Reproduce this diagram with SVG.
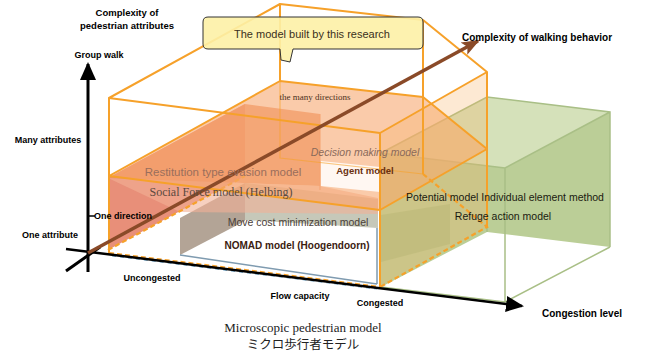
<svg xmlns="http://www.w3.org/2000/svg" width="650" height="354" viewBox="0 0 650 354">
<defs>
<style>
.ax{font-family:"Liberation Sans",Arial,sans-serif;font-weight:bold;font-size:9px;fill:#000}
.or{fill:none;stroke:#f6a12a;stroke-width:2;stroke-linejoin:round}
.ord{fill:none;stroke:#f6a12a;stroke-width:2.2;stroke-dasharray:5 3}
.gr{fill:none;stroke:#a9bf86;stroke-width:1.5}
.lbl{font-family:"Liberation Sans",Arial,sans-serif;font-size:10.5px;text-anchor:middle}
</style>
<marker id="ahb" markerUnits="userSpaceOnUse" markerWidth="18" markerHeight="16" refX="16" refY="8" orient="auto"><path d="M0,0 L18,8 L0,16 z" fill="#000"/></marker>
<marker id="ahbr" markerUnits="userSpaceOnUse" markerWidth="18" markerHeight="16" refX="16" refY="8" orient="auto"><path d="M0,1 L18,8 L0,15 L4,8 z" fill="#8a4a28"/></marker>
</defs>
<rect width="650" height="354" fill="#fff"/>

<g id="green-box">
<polygon points="381,153 487,97 610,112 610,247 487,232 381,287" fill="#b4c98c" fill-opacity="0.9"/>
<polygon points="381,153 487,97 610,112 505,168" fill="#d9e4c0" fill-opacity="0.85"/>
<polygon points="381,215 450,204 450,244 381,262" fill="#9fb57a" fill-opacity="0.45"/>
<path class="gr" d="M381,153 L487,97 L610,112 L610,247 M505,168 L610,112 M505,168 L505,302 M381,153 L505,168 M381,287 L505,302 L610,247 M487,97 L487,232"/>
</g>

<g id="grey-box">
<polygon points="180,218 180,255 245,221 245,183" fill="#b3a496"/>
<polygon points="245,183 378,199 378,228 245,220" fill="#c6c8b9"/>
<path d="M180,255 L377,284 M377,228 L377,284" fill="none" stroke="#7f9bb0" stroke-width="1.5"/>
</g>

<g id="red-box">
<polygon points="108,178 108,250 245,176 245,104" fill="#e5836a" fill-opacity="0.9"/>
<polygon points="108,178 245,104 320,114 320,186" fill="#ee8f62" fill-opacity="0.8"/>
<polygon points="108,178 320,186 378,198 378,214 180,212" fill="#f2b096" fill-opacity="0.6"/>
<path class="ord" d="M108,250 L245,176"/>
<path d="M320,114 L320,190" fill="none" stroke="#f29a70" stroke-width="1"/>
</g>

<g id="research-box">
<polygon points="109,176 380,210 487,149 423,97 280,81" fill="#f7a872" fill-opacity="0.6"/>
<polygon points="321,161 380,167 380,192 321,186" fill="#fff" fill-opacity="0.85"/>
<polygon points="380,133 487,72 487,227 380,286" fill="#f7b060" fill-opacity="0.28"/>
<path class="or" d="M109,98 L380,133 L487,72 L423,20 L280,4 Z"/>
<path class="or" d="M109,176 L380,210 L487,149 L423,97 L280,81 Z"/>
<path class="or" d="M109,98 V253 M380,133 V287 M487,72 V227 M423,20 V174 M280,4 V81"/>
<path d="M280,81 V158 L423,174" fill="none" stroke="#f6a12a" stroke-width="1.2" stroke-opacity="0.6"/>
<path class="ord" d="M423,174 L487,227 L380,287"/>
<path class="ord" d="M109,253 L380,287"/>
<path d="M112,256 L377,289" fill="none" stroke="#7fb0d0" stroke-width="1.2" stroke-dasharray="4 4"/>
</g>

<g id="connectors">
<path d="M88,272 V64" stroke="#000" stroke-width="3" marker-end="url(#ahb)"/>
<path d="M66,271 L100,247" stroke="#000" stroke-width="3"/>
<path d="M66,249 L522,306" stroke="#000" stroke-width="2.5" marker-end="url(#ahb)"/>
<path d="M88,253 L478,41" stroke="#8a4a28" stroke-width="3.5" marker-end="url(#ahbr)"/>
<path d="M88,216 H95" stroke="#000" stroke-width="1.5"/>
</g>

<g id="callout">
<path d="M208,17 H418 Q423,17 423,22 V44 Q423,49 418,49 H293 L290,62 L281,60 L280,49 H208 Q203,49 203,44 V22 Q203,17 208,17 Z" fill="#fdf1a6" fill-opacity="0.9" stroke="#333" stroke-width="1"/>
<text x="312" y="38" class="lbl" style="font-size:11px;fill:#3a3020">The model built by this research</text>
</g>

<g id="axis-labels">
<text class="ax" x="127" y="16" text-anchor="middle" style="font-size:9.5px">Complexity of</text>
<text class="ax" x="127" y="29" text-anchor="middle" style="font-size:9.5px">pedestrian attributes</text>
<text class="ax" x="99" y="58" text-anchor="middle">Group walk</text>
<text class="ax" x="48" y="143" text-anchor="middle">Many attributes</text>
<text class="ax" x="123" y="219" text-anchor="middle">One direction</text>
<text class="ax" x="50" y="238" text-anchor="middle">One attribute</text>
<text class="ax" x="152" y="281" text-anchor="middle">Uncongested</text>
<text class="ax" x="300" y="299" text-anchor="middle">Flow capacity</text>
<text class="ax" x="380" y="306" text-anchor="middle">Congested</text>
<text class="ax" x="582" y="317" text-anchor="middle" style="font-size:10px">Congestion level</text>
<text class="ax" x="462" y="41" style="font-size:10px">Complexity of walking behavior</text>
</g>

<g id="model-labels">
<text class="lbl" x="315" y="100" style="font-family:'Liberation Serif',serif;font-size:9px;fill:#4a3020">the many directions</text>
<text class="lbl" x="365" y="156" style="font-style:italic;fill:#8a6a5a">Decision making model</text>
<text class="lbl" x="365" y="174" style="font-weight:bold;font-size:9.5px;fill:#6a3010">Agent model</text>
<text class="lbl" x="223" y="176" style="font-size:11.5px;fill:#9a6e5c">Restitution type evasion model</text>
<text class="lbl" x="221" y="196" style="font-family:'Liberation Serif',serif;font-size:12px;fill:#5a4a40">Social Force model (Helbing)</text>
<text class="lbl" x="298" y="226" style="fill:#4a4038">Move cost minimization model</text>
<text class="lbl" x="297" y="249" style="font-weight:bold;font-size:10px;fill:#3a2010">NOMAD model (Hoogendoorn)</text>
<text class="lbl" x="505" y="201" style="fill:#1a1a10">Potential model Individual element method</text>
<text class="lbl" x="503" y="220" style="fill:#1a1a10">Refuge action model</text>
</g>

<g id="caption">
<text x="303" y="332" text-anchor="middle" style="font-family:'Liberation Serif',serif;font-size:13px;fill:#222">Microscopic pedestrian model</text>
<text x="303" y="349" text-anchor="middle" style="font-family:'Noto Sans CJK JP',sans-serif;font-size:12.5px;fill:#222">ミクロ歩行者モデル</text>
</g>
</svg>
